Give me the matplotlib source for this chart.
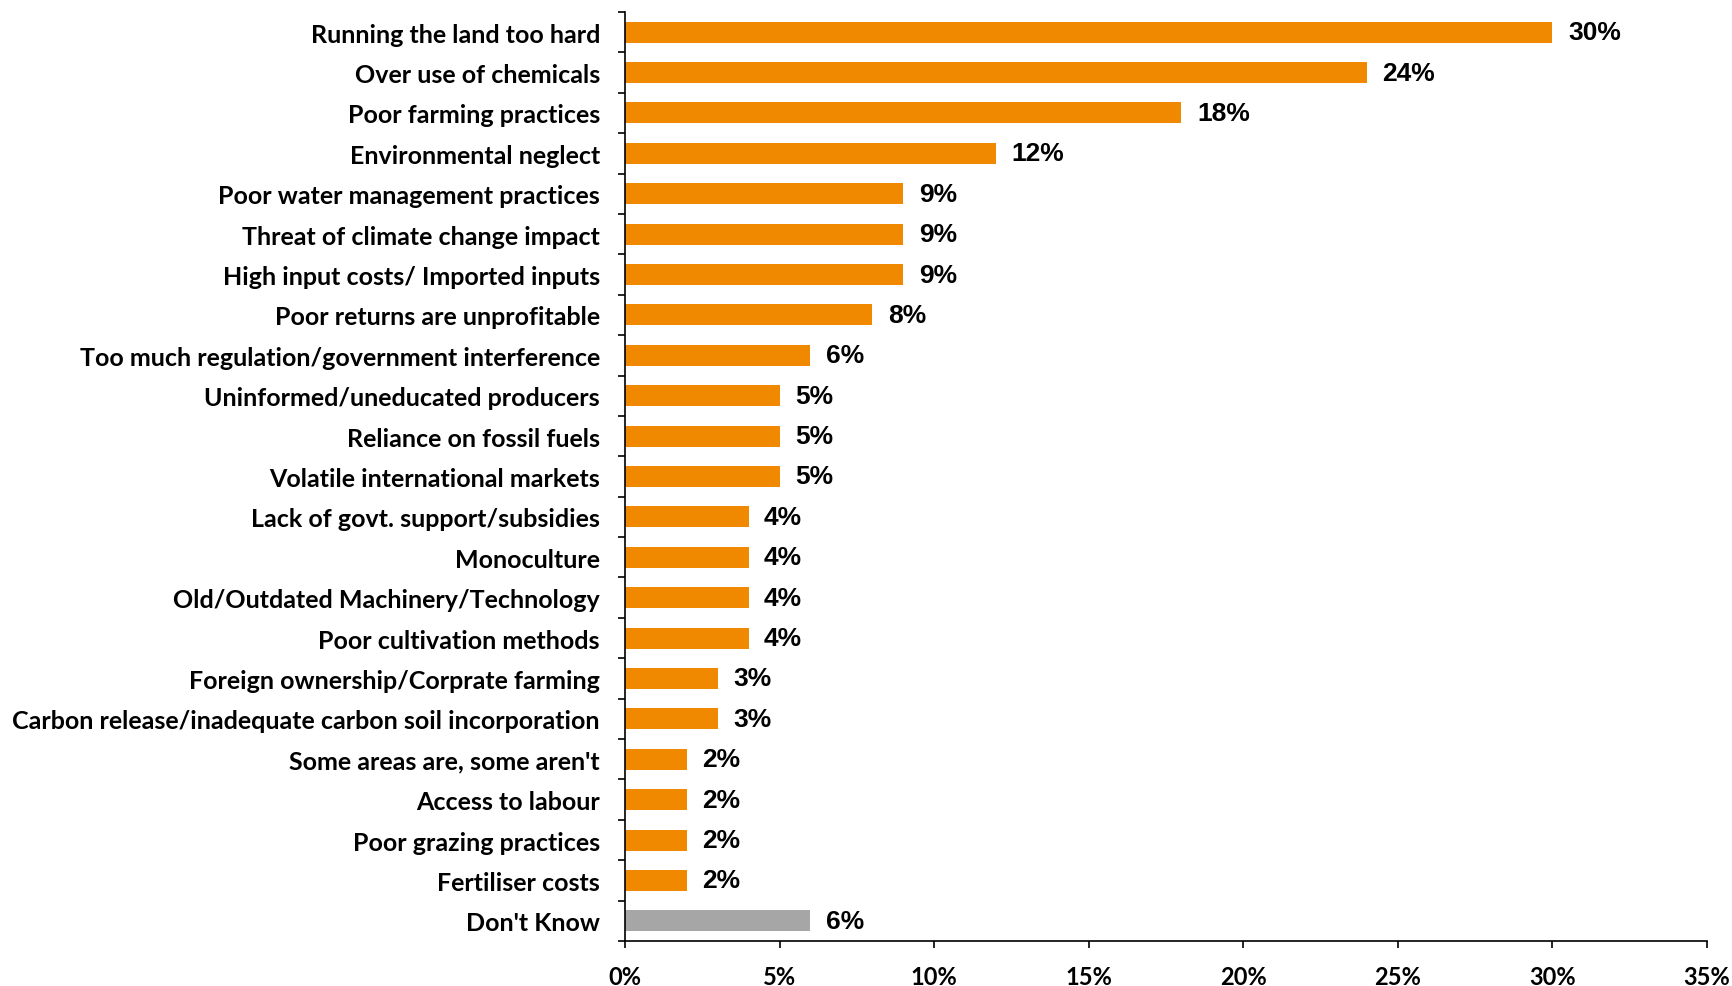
import matplotlib
matplotlib.use("Agg")
import matplotlib.pyplot as plt
from matplotlib.ticker import MultipleLocator, FuncFormatter, FixedLocator

categories = [
    "Running the land too hard",
    "Over use of chemicals",
    "Poor farming practices",
    "Environmental neglect",
    "Poor water management practices",
    "Threat of climate change impact",
    "High input costs/ Imported inputs",
    "Poor returns are unprofitable",
    "Too much regulation/government interference",
    "Uninformed/uneducated producers",
    "Reliance on fossil fuels",
    "Volatile international markets",
    "Lack of govt. support/subsidies",
    "Monoculture",
    "Old/Outdated Machinery/Technology",
    "Poor cultivation methods",
    "Foreign ownership/Corprate farming",
    "Carbon release/inadequate carbon soil incorporation",
    "Some areas are, some aren't",
    "Access to labour",
    "Poor grazing practices",
    "Fertiliser costs",
    "Don't Know",
]
values = [30, 24, 18, 12, 9, 9, 9, 8, 6, 5, 5, 5, 4, 4, 4, 4, 3, 3, 2, 2, 2, 2, 6]

orange = "#F08800"
grey = "#A6A6A6"
colors = [orange] * (len(values) - 1) + [grey]

label_font = ["Lato", "DejaVu Sans"]
value_font = ["Liberation Sans", "DejaVu Sans"]

fig = plt.figure(figsize=(17.32, 9.87), dpi=100)
ax = fig.add_axes([625 / 1732, 1 - 942 / 987, (1707 - 625) / 1732, (942 - 13) / 987])

ypos = list(range(len(values)))
ax.barh(ypos, values, height=0.52, color=colors, edgecolor="none")
ax.set_ylim(len(values) - 0.5, -0.5)
ax.set_xlim(0, 35)

# percentage labels just past the end of each bar
for y, v in zip(ypos, values):
    ax.text(v + 0.5, y, f"{v}%", va="center", ha="left", fontsize=19,
            fontweight="bold", family=value_font, color="black")

ax.set_yticks(ypos)
ax.set_yticklabels(categories, fontsize=18, fontweight="bold", family=label_font)
ax.tick_params(axis="y", which="major", length=0, pad=18)
ax.yaxis.set_minor_locator(FixedLocator([i - 0.5 for i in range(len(values) + 1)]))
ax.tick_params(axis="y", which="minor", length=5, width=1.2, direction="out")

ax.xaxis.set_major_locator(MultipleLocator(5))
ax.xaxis.set_major_formatter(FuncFormatter(lambda x, p: f"{x:.0f}%"))
ax.tick_params(axis="x", length=5, width=1.2, direction="out", pad=12)
for lab in ax.get_xticklabels():
    lab.set_fontsize(17)
    lab.set_fontweight("bold")
    lab.set_family(label_font)

for side in ["top", "right"]:
    ax.spines[side].set_visible(False)
for side in ["left", "bottom"]:
    ax.spines[side].set_linewidth(1.2)
    ax.spines[side].set_color("black")

fig.savefig("out.png", dpi=100)
